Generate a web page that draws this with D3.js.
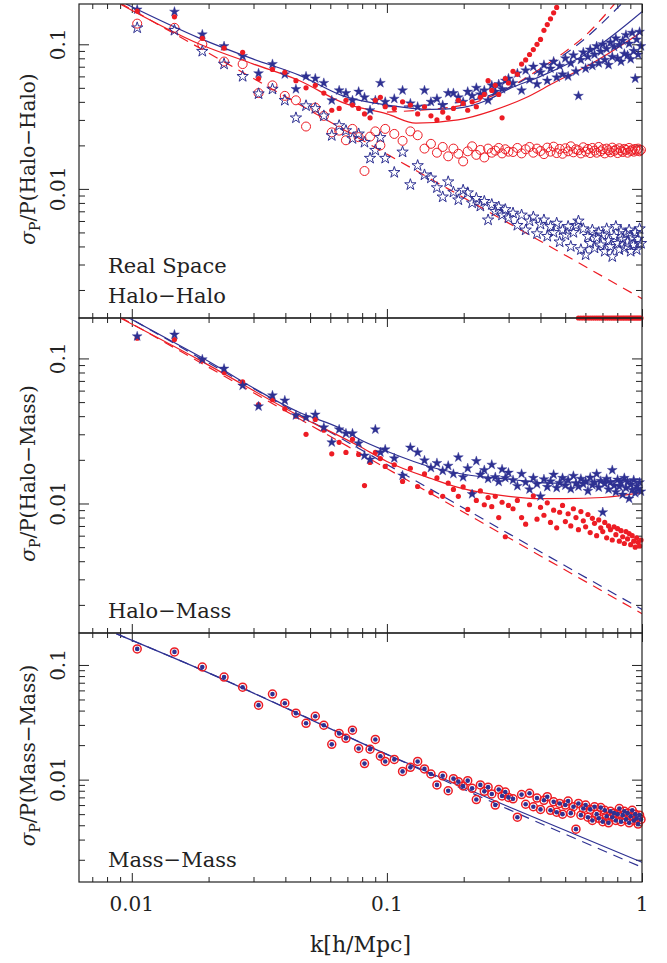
<!DOCTYPE html>
<html>

<head>
  <meta charset="utf8">
  <script src="https://d3js.org/d3.v7.min.js"></script>
  <style>
    body { margin: 0; background: #fff; }
    text { font-family: "DejaVu Serif", serif; fill: #222; }
    .tick line { stroke: #222; }
  </style>
</head>

<body>
  <svg id="chart" width="667" height="963"></svg>

  <script>
    // k bins (h/Mpc) shared by every measured series
    var kBins = [
      0.0105, 0.0147, 0.0189, 0.0230, 0.0272, 0.0314, 0.0356, 0.0398, 0.0440, 0.0482,
      0.0524, 0.0566, 0.0608, 0.0650, 0.0691, 0.0733, 0.0775, 0.0817, 0.0859, 0.0901,
      0.0943, 0.0985,
      0.1069, 0.1152, 0.1236, 0.1320, 0.1404, 0.1488, 0.1571, 0.1655, 0.1739, 0.1823,
      0.1906, 0.1990, 0.2074, 0.2158, 0.2242, 0.2325, 0.2409, 0.2493, 0.2577, 0.2660,
      0.2744, 0.2828, 0.2912, 0.2996,
      0.3122, 0.3247, 0.3373, 0.3499, 0.3624, 0.3750, 0.3876, 0.4001, 0.4127, 0.4253,
      0.4378, 0.4504, 0.4630, 0.4756, 0.4881, 0.5007, 0.5133, 0.5258, 0.5384, 0.5510,
      0.5635, 0.5761, 0.5887, 0.6012, 0.6138, 0.6264, 0.6389, 0.6515, 0.6641, 0.6767,
      0.6892, 0.7018, 0.7144, 0.7269, 0.7395, 0.7521, 0.7646, 0.7772, 0.7898, 0.8023,
      0.8149, 0.8275, 0.8400, 0.8526, 0.8652, 0.8778, 0.8903, 0.9029, 0.9155, 0.9280,
      0.9406, 0.9532, 0.9657, 0.9783, 0.9909
    ];

    // Halo-Halo panel
    var hhStarsFilled = [
      0.174, 0.168, 0.117, 0.097, 0.083, 0.063, 0.073, 0.062, 0.049, 0.060,
      0.058, 0.054, 0.041, 0.048, 0.046, 0.041, 0.047, 0.043, 0.035, 0.041,
      0.054, 0.040,
      0.042, 0.048, 0.039, 0.037, 0.048, 0.040, 0.042, 0.038, 0.046, 0.046,
      0.043, 0.040, 0.047, 0.044, 0.050, 0.045, 0.048, 0.041, 0.052, 0.047,
      0.053, 0.049, 0.056, 0.058,
      0.054, 0.063, 0.048, 0.066, 0.057, 0.070, 0.053, 0.064, 0.072, 0.056,
      0.068, 0.076, 0.059, 0.071, 0.062, 0.080, 0.060, 0.074, 0.084, 0.065,
      0.044, 0.078, 0.088, 0.068, 0.082, 0.092, 0.071, 0.085, 0.097, 0.074,
      0.089, 0.100, 0.078, 0.093, 0.072, 0.103, 0.082, 0.096, 0.110, 0.080,
      0.099, 0.076, 0.106, 0.086, 0.116, 0.084, 0.101, 0.079, 0.120, 0.090,
      0.058, 0.108, 0.085, 0.122, 0.097
    ];
    var hhDots = [
      0.170, 0.155, 0.110, 0.094, 0.088, 0.058, 0.067, 0.064, 0.056, 0.050,
      0.052, 0.046, 0.035, 0.036, 0.041, 0.038, 0.036, 0.033, 0.031, 0.041,
      0.043, 0.037,
      0.036, 0.040, 0.038, 0.033, 0.037, 0.032, 0.030, 0.034, 0.031, 0.036,
      0.041, 0.039, 0.035, 0.040, 0.037, 0.043, 0.045, 0.056, 0.048, 0.052,
      0.045, 0.031, 0.058, 0.054,
      0.065, 0.062, 0.073, 0.078, 0.085, 0.092, 0.100, 0.108, 0.125, 0.137,
      0.150, 0.165, 0.180
    ];
    var hhCircles = [
      0.139, 0.130, 0.100, 0.076, 0.073, 0.046, 0.052, 0.044, 0.041, 0.027,
      0.0365, 0.032, 0.0246, 0.0253, 0.0217, 0.026, 0.0228, 0.0133, 0.023, 0.025,
      0.020, 0.026,
      0.024, 0.0215, 0.025, 0.0235, 0.019, 0.0205, 0.0178, 0.0195, 0.0168, 0.019,
      0.0175, 0.0155, 0.0182, 0.0197, 0.0172, 0.0186, 0.0165, 0.019, 0.0178, 0.0184,
      0.0192, 0.0176, 0.0188, 0.0181,
      0.0180, 0.0192, 0.0176, 0.0188, 0.0195, 0.0178, 0.0190, 0.0183, 0.0174, 0.0193,
      0.0181, 0.0196, 0.0177, 0.0189, 0.0175, 0.0191, 0.0182, 0.0197, 0.0179, 0.0188,
      0.0185, 0.0176, 0.0194, 0.0181, 0.0189, 0.0177, 0.0192, 0.0184, 0.0178, 0.0195,
      0.0182, 0.0188, 0.0176, 0.0190, 0.0185, 0.0179, 0.0193, 0.0183, 0.0187, 0.0177,
      0.0191, 0.0184, 0.0180, 0.0189, 0.0186, 0.0178, 0.0192, 0.0183, 0.0187, 0.0181,
      0.0189, 0.0184, 0.0190, 0.0182, 0.0186
    ];
    var hhStarsOpen = [
      0.130, 0.125, 0.0895, 0.073, 0.060, 0.0455, 0.049, 0.041, 0.031, 0.0376,
      0.036, 0.032, 0.0234, 0.0274, 0.0253, 0.0223, 0.024, 0.021, 0.0163, 0.0185,
      0.0227, 0.0163,
      0.013, 0.018, 0.0107, 0.0145, 0.0125, 0.0119, 0.0102, 0.0088, 0.0112, 0.0095,
      0.0084, 0.0098, 0.0094, 0.0080, 0.0086, 0.0076, 0.0082, 0.0061, 0.0078, 0.0070,
      0.0075, 0.0066, 0.0072, 0.0063,
      0.0068, 0.0056, 0.0066, 0.0052, 0.0060, 0.0064, 0.0049, 0.0057, 0.0061, 0.0047,
      0.0055, 0.0050, 0.0058, 0.0043, 0.0052, 0.0048, 0.0055, 0.0040, 0.0050, 0.0056,
      0.0060, 0.0038, 0.0053, 0.0035, 0.0047, 0.0042, 0.0052, 0.0039, 0.0046, 0.0050,
      0.0041, 0.0048, 0.0037, 0.0053, 0.0044, 0.0040, 0.0034, 0.0047, 0.0055, 0.0042,
      0.0038, 0.0051, 0.0045, 0.0039, 0.0049, 0.0043, 0.0052, 0.0037, 0.0046, 0.0041,
      0.0050, 0.0038, 0.0045, 0.0053, 0.0042
    ];
    // points that fall below the plotted range, pinned at the lower edge
    var hhFloorK = [
      0.5635, 0.5761, 0.5887, 0.6012, 0.6138, 0.6264, 0.6389, 0.6515, 0.6641, 0.6767,
      0.6892, 0.7018, 0.7144, 0.7269, 0.7395, 0.7521, 0.7646, 0.7772, 0.7898, 0.8023,
      0.8149, 0.8275, 0.8400, 0.8526, 0.8652, 0.8778, 0.8903, 0.9029, 0.9155, 0.9280,
      0.9406, 0.9532, 0.9657, 0.9783, 0.9909
    ];

    var hhBlueFitK = [0.0095, 0.0185, 0.03, 0.0455, 0.0672, 0.1, 0.15, 0.19, 0.247, 0.30, 0.40, 0.63, 1.0];
    var hhBlueFitV = [0.19, 0.11, 0.079, 0.061, 0.044, 0.038, 0.0355, 0.0362, 0.041, 0.049, 0.060, 0.0896, 0.168];
    var hhRedFitK = [0.009, 0.0185, 0.03, 0.0455, 0.0672, 0.1, 0.13, 0.19, 0.26, 0.35, 0.45, 0.63, 1.0];
    var hhRedFitV = [0.19, 0.10, 0.073, 0.056, 0.0395, 0.033, 0.0285, 0.030, 0.0348, 0.0427, 0.054, 0.073, 0.122];
    var hhBlueShotK = [0.1, 0.2, 0.3, 0.41, 0.6, 0.83];
    var hhBlueShotV = [0.037, 0.040, 0.050, 0.068, 0.11, 0.19];
    var hhRedShotK = [0.1, 0.2, 0.3, 0.4, 0.5, 0.6, 0.78];
    var hhRedShotV = [0.034, 0.038, 0.050, 0.068, 0.089, 0.115, 0.19];

    // Gaussian predictions
    var gaussK = [0.009, 0.03, 0.1, 0.3, 1.0];
    var gaussRedV = [0.193, 0.058, 0.0174, 0.0058, 0.00174];
    var gaussBlueV = [0.207, 0.062, 0.0186, 0.0062, 0.00186];

    // Halo-Mass panel
    var hmStars = [
      0.142, 0.146, 0.0985, 0.085, 0.065, 0.0467, 0.0556, 0.0513, 0.0405, 0.0392,
      0.041, 0.0335, 0.0264, 0.0324, 0.0304, 0.0304, 0.026, 0.0214, 0.0201, 0.0324,
      0.0225, 0.0236,
      0.0205, 0.0156, 0.0243, 0.0225, 0.0198, 0.0176, 0.019, 0.0168, 0.0182, 0.0160,
      0.0208, 0.0152, 0.0175, 0.0116, 0.0196, 0.0158, 0.0170, 0.0148, 0.0185, 0.0152,
      0.0141, 0.0172, 0.0150, 0.0163,
      0.0145, 0.0132, 0.0160, 0.0140, 0.0125, 0.0150, 0.0136, 0.0112, 0.0147, 0.0130,
      0.0142, 0.0158, 0.0128, 0.0139, 0.0150, 0.0133, 0.0145, 0.0126, 0.0155, 0.0138,
      0.0131, 0.0148, 0.0136, 0.0142, 0.0122, 0.0151, 0.0134, 0.0140, 0.0160, 0.0129,
      0.0143, 0.0087, 0.0137, 0.0148, 0.0125, 0.0140, 0.0170, 0.0133, 0.0120, 0.0146,
      0.0131, 0.0139, 0.0115, 0.0150, 0.0128, 0.0141, 0.0108, 0.0135, 0.0124, 0.0145,
      0.0118, 0.0132, 0.0126, 0.0140, 0.0121
    ];
    var hmDots = [
      0.138, 0.135, 0.097, 0.080, 0.069, 0.048, 0.052, 0.045, 0.040, 0.030,
      0.038, 0.032, 0.022, 0.0264, 0.0225, 0.0277, 0.0218, 0.0133, 0.0192, 0.0225,
      0.0204, 0.018,
      0.0185, 0.0142, 0.0175, 0.0131, 0.0160, 0.0119, 0.0150, 0.0112, 0.0138, 0.0125,
      0.0112, 0.0130, 0.0091, 0.0118, 0.0105, 0.0122, 0.0098, 0.0110, 0.0095, 0.0112,
      0.0080, 0.0102, 0.0059, 0.0097,
      0.0092, 0.0105, 0.0080, 0.0072, 0.0098, 0.0113, 0.0078, 0.0094, 0.0083, 0.0101,
      0.0074, 0.0090, 0.0068, 0.0087, 0.0097, 0.0075, 0.0085, 0.0070, 0.0092, 0.0080,
      0.0066, 0.0088, 0.0076, 0.0069, 0.0084, 0.0063, 0.0079, 0.0073, 0.0060, 0.0077,
      0.0068, 0.0064, 0.0074, 0.0058, 0.0070, 0.0066, 0.0056, 0.0069, 0.0061, 0.0067,
      0.0055, 0.0065, 0.0059, 0.0053, 0.0064, 0.0057, 0.0062, 0.0052, 0.0060, 0.0055,
      0.0050, 0.0058, 0.0054, 0.0051, 0.0056
    ];
    var hmBlueFitK = [0.0095, 0.0185, 0.0455, 0.067, 0.078, 0.1, 0.151, 0.2, 0.3, 0.45, 0.6, 1.0];
    var hmBlueFitV = [0.195, 0.103, 0.0424, 0.0324, 0.0277, 0.0229, 0.0177, 0.0159, 0.0147, 0.0138, 0.014, 0.0147];
    var hmRedFitK = [0.009, 0.0185, 0.0455, 0.078, 0.1, 0.15, 0.19, 0.3, 0.4, 0.5, 0.7, 1.0];
    var hmRedFitV = [0.19, 0.097, 0.040, 0.0248, 0.0195, 0.0148, 0.0129, 0.0112, 0.0108, 0.0108, 0.011, 0.0119];

    // Mass-Mass panel
    var mmPoints = [
      0.138, 0.130, 0.096, 0.0785, 0.064, 0.0446, 0.0557, 0.0464, 0.038, 0.031,
      0.0357, 0.0298, 0.0203, 0.0253, 0.0229, 0.027, 0.0187, 0.0138, 0.0184, 0.0224,
      0.016, 0.0144,
      0.0150, 0.0118, 0.0128, 0.0144, 0.0124, 0.0112, 0.0090, 0.0108, 0.0080, 0.0102,
      0.0096, 0.0088, 0.0098, 0.0084, 0.0067, 0.0090, 0.0079, 0.0086, 0.0075, 0.0060,
      0.0082, 0.0072, 0.0078, 0.0070,
      0.0068, 0.0047, 0.0074, 0.0061, 0.0076, 0.0058, 0.0069, 0.0055, 0.0066, 0.0071,
      0.0054, 0.0064, 0.0052, 0.0062, 0.0050, 0.0060, 0.0065, 0.0051, 0.0058, 0.0037,
      0.0062, 0.0049, 0.0056, 0.0060, 0.0047, 0.0055, 0.0044, 0.0058, 0.0050, 0.0046,
      0.0057, 0.0043, 0.0054, 0.0048, 0.0042, 0.0053, 0.0047, 0.0051, 0.0044, 0.0050,
      0.0056, 0.0043, 0.0049, 0.0053, 0.0045, 0.0051, 0.0042, 0.0048, 0.0054, 0.0044,
      0.0050, 0.0046, 0.0041, 0.0049, 0.0045
    ];
    var mmFitK = [0.0087, 0.0185, 0.1, 0.3, 1.0];
    var mmFitV = [0.187, 0.092, 0.0166, 0.0058, 0.0019];
    var mmGaussV = [0.187, 0.092, 0.0166, 0.0055, 0.00172];

    // ticks
    var xMajor = [0.01, 0.1, 1];
    var xMajorLabels = ["0.01", "0.1", "1"];
    var yMajor = [0.01, 0.1];
    var yMajorLabels = ["0.01", "0.1"];

    var blue = '#2e3192';
    var red = '#ed1c24';

    var chart = d3.select('#chart');
    var left = 79, right = 642;

    var x = d3.scaleLog().domain([0.00621, 1]).range([left, right]);
    var xMinor = x.ticks().filter((t) => xMajor.indexOf(+t.toPrecision(3)) < 0);

    var panels = [
      { id: 'hh', top: 4, bottom: 318, name: 'Halo\u2212Halo', notes: ['Real Space', 'Halo\u2212Halo'] },
      { id: 'hm', top: 318, bottom: 633, name: 'Halo\u2212Mass', notes: ['Halo\u2212Mass'] },
      { id: 'mm', top: 633, bottom: 882, name: 'Mass\u2212Mass', notes: ['Mass\u2212Mass'] }
    ];

    var starFilled = d3.symbol().type(d3.symbolStar).size(30)();
    var starOpen = d3.symbol().type(d3.symbolStar).size(40)();

    panels.forEach(function (p) {
      var y = d3.scaleLog().domain([0.00128, 0.19]).range([p.bottom, p.top]);
      var yMinor = y.ticks().filter((t) => yMajor.indexOf(+t.toPrecision(3)) < 0);
      var g = chart.append('g');

      chart.append('clipPath').attr('id', 'clip-' + p.id)
        .append('rect').attr('x', left).attr('y', p.top)
        .attr('width', right - left).attr('height', p.bottom - p.top);

      // inward ticks on all four sides
      function ticks(axis, tr) {
        g.append('g').attr('transform', tr).call(axis.tickFormat(''))
          .call((a) => a.select('.domain').remove());
      }
      ticks(d3.axisBottom(x).tickValues(xMajor).tickSize(-9), 'translate(0,' + p.bottom + ')');
      ticks(d3.axisBottom(x).tickValues(xMinor).tickSize(-5), 'translate(0,' + p.bottom + ')');
      ticks(d3.axisTop(x).tickValues(xMajor).tickSize(-9), 'translate(0,' + p.top + ')');
      ticks(d3.axisTop(x).tickValues(xMinor).tickSize(-5), 'translate(0,' + p.top + ')');
      ticks(d3.axisLeft(y).tickValues(yMajor).tickSize(-10), 'translate(' + left + ',0)');
      ticks(d3.axisLeft(y).tickValues(yMinor).tickSize(-6), 'translate(' + left + ',0)');
      ticks(d3.axisRight(y).tickValues(yMajor).tickSize(-10), 'translate(' + right + ',0)');
      ticks(d3.axisRight(y).tickValues(yMinor).tickSize(-6), 'translate(' + right + ',0)');

      // y tick labels, rotated
      yMajor.forEach(function (v, i) {
        g.append('text')
          .attr('transform', 'translate(65,' + y(v) + ') rotate(-90)')
          .attr('text-anchor', 'middle')
          .attr('font-size', 20)
          .text(yMajorLabels[i]);
      });

      // y axis title
      var title = g.append('text')
        .attr('transform', 'translate(35,' + ((p.top + p.bottom) / 2 - 2) + ') rotate(-90)')
        .attr('text-anchor', 'middle')
        .attr('font-size', 20);
      title.append('tspan').attr('font-style', 'italic').text('\u03c3');
      title.append('tspan').attr('font-size', 14).attr('dy', 5).text('P');
      title.append('tspan').attr('dy', -5).text('/P(' + p.name + ')');

      // panel notes
      p.notes.forEach(function (t, i) {
        g.append('text')
          .attr('x', 108)
          .attr('y', p.bottom - 15 - (p.notes.length - 1 - i) * 30)
          .attr('font-size', 21)
          .text(t);
      });

      var lines = g.append('g').attr('clip-path', 'url(#clip-' + p.id + ')');
      var marks = g.append('g');

      function drawLine(ks, vs, color, dashed) {
        lines.append('path')
          .datum(d3.zip(ks, vs))
          .attr('fill', 'none')
          .attr('stroke', color)
          .attr('stroke-width', 1.2)
          .attr('stroke-dasharray', dashed ? '10,7' : null)
          .attr('d', d3.line().curve(d3.curveMonotoneX)
            .x((d) => x(d[0])).y((d) => y(d[1])));
      }

      function drawStars(vs, path, filled) {
        marks.append('g').selectAll('path')
          .data(d3.zip(kBins, vs))
          .enter()
          .append('path')
          .attr('d', path)
          .attr('transform', (d) => 'translate(' + x(d[0]) + ',' + y(d[1]) + ')')
          .attr('fill', filled ? blue : 'none')
          .attr('stroke', blue)
          .attr('stroke-width', filled ? 0.4 : 1);
      }

      function drawCircles(vs, r, fill, stroke, sw) {
        marks.append('g').selectAll('circle')
          .data(d3.zip(kBins, vs))
          .enter()
          .append('circle')
          .attr('cx', (d) => x(d[0]))
          .attr('cy', (d) => y(d[1]))
          .attr('r', r)
          .attr('fill', fill)
          .attr('stroke', stroke)
          .attr('stroke-width', sw);
      }

      if (p.id === 'hh') {
        drawLine(gaussK, gaussRedV, red, true);
        drawLine(hhRedShotK, hhRedShotV, red, true);
        drawLine(hhBlueShotK, hhBlueShotV, blue, true);
        drawLine(hhRedFitK, hhRedFitV, red, false);
        drawLine(hhBlueFitK, hhBlueFitV, blue, false);
        drawCircles(hhCircles, 4.5, 'none', red, 1);
        drawStars(hhStarsOpen, starOpen, false);
        drawStars(hhStarsFilled, starFilled, true);
        drawCircles(hhDots, 2.6, red, 'none', 0);
        marks.append('g').selectAll('circle')
          .data(hhFloorK)
          .enter()
          .append('circle')
          .attr('cx', (d) => x(d))
          .attr('cy', y(y.domain()[0]))
          .attr('r', 2.6)
          .attr('fill', red);
      } else if (p.id === 'hm') {
        drawLine(gaussK, gaussBlueV, blue, true);
        drawLine(gaussK, gaussRedV, red, true);
        drawLine(hmRedFitK, hmRedFitV, red, false);
        drawLine(hmBlueFitK, hmBlueFitV, blue, false);
        drawCircles(hmDots, 2.6, red, 'none', 0);
        drawStars(hmStars, starFilled, true);
      } else {
        drawLine(mmFitK, mmGaussV, blue, true);
        drawLine(mmFitK, mmFitV, blue, false);
        drawCircles(mmPoints, 4, 'none', red, 1.5);
        drawCircles(mmPoints, 2.3, blue, 'none', 0);
      }

      g.append('rect')
        .attr('x', left).attr('y', p.top)
        .attr('width', right - left).attr('height', p.bottom - p.top)
        .attr('fill', 'none').attr('stroke', '#222').attr('stroke-width', 1.2);
    });

    // x tick labels and title under the last panel
    xMajor.forEach(function (v, i) {
      chart.append('text')
        .attr('x', x(v)).attr('y', 911)
        .attr('text-anchor', 'middle')
        .attr('font-size', 20)
        .text(xMajorLabels[i]);
    });
    chart.append('text')
      .attr('x', (left + right) / 2).attr('y', 952)
      .attr('text-anchor', 'middle')
      .attr('font-size', 22)
      .text('k[h/Mpc]');
  </script>
</body>

</html>
